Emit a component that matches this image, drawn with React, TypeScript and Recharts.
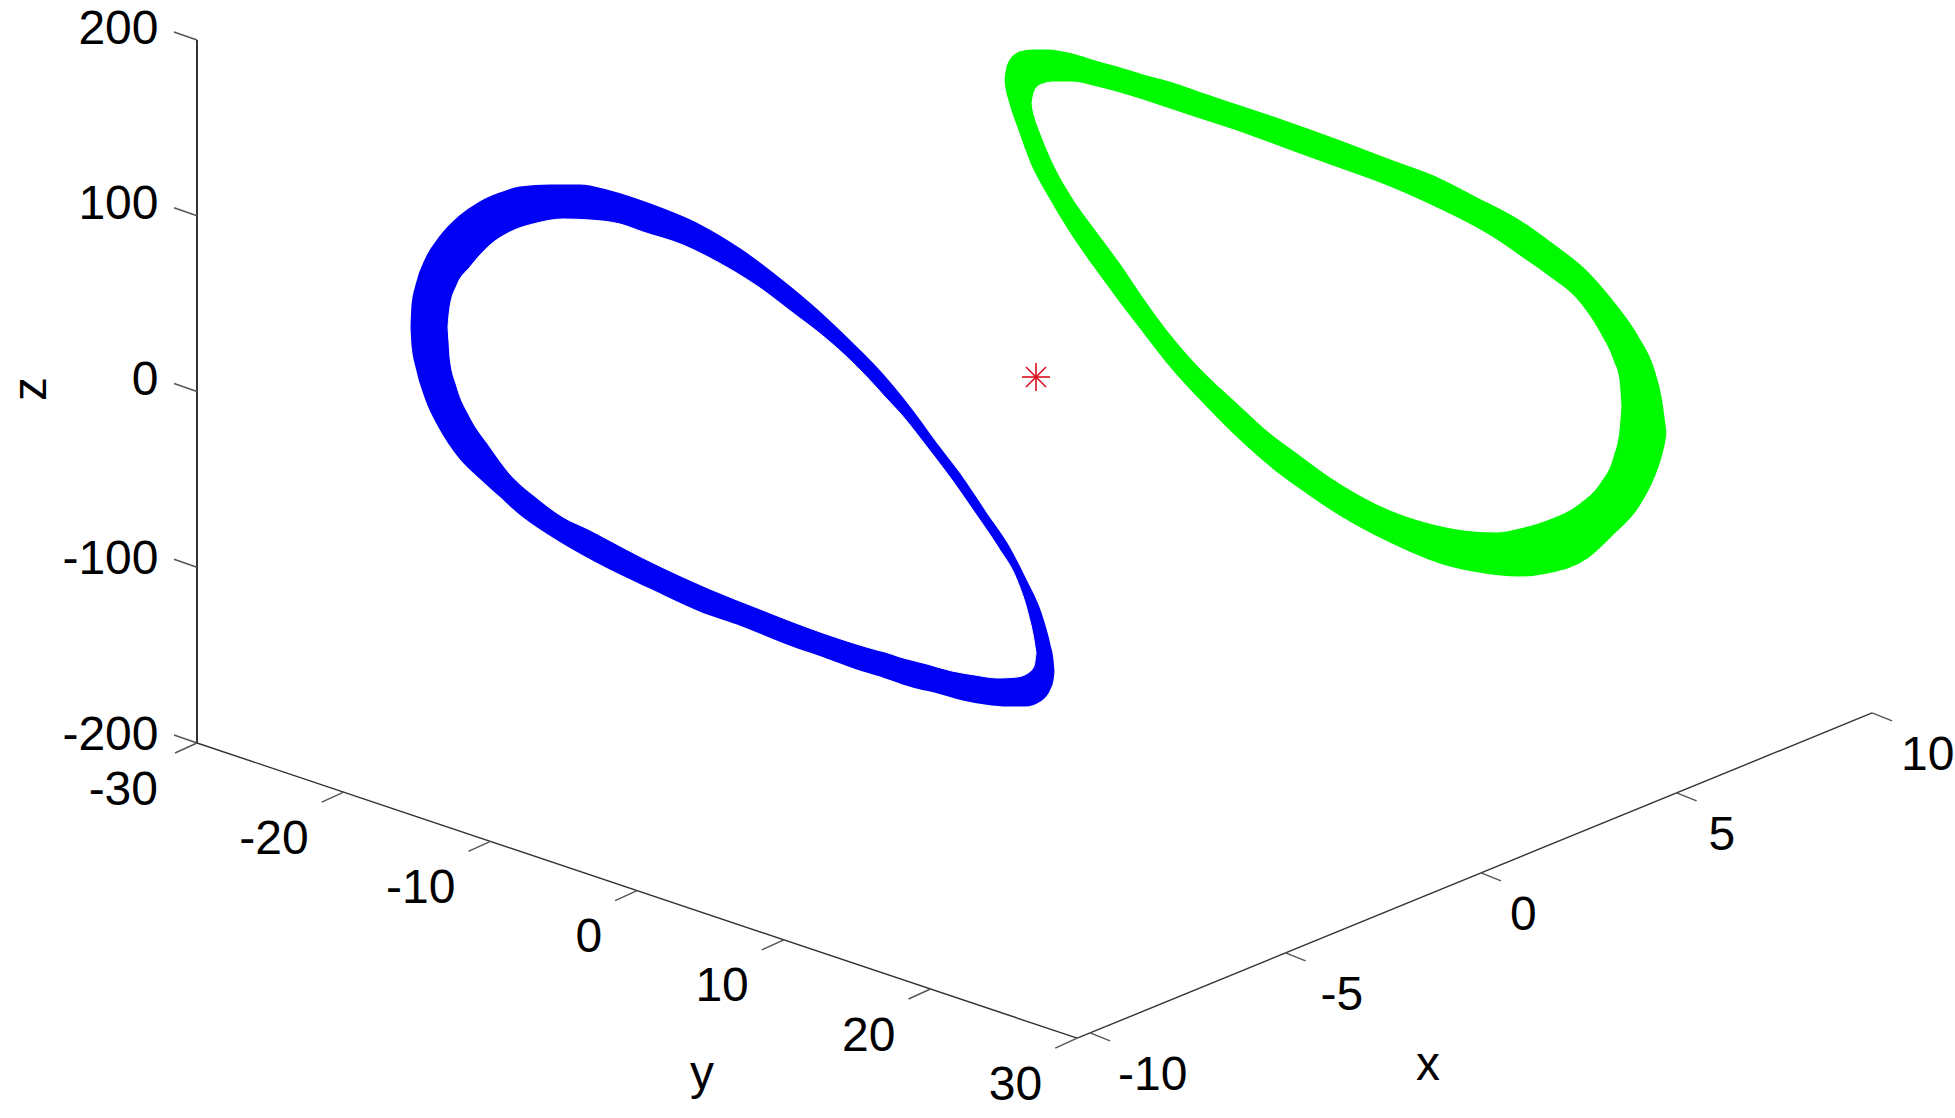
import React from 'react'
import { Area, ComposedChart, ReferenceLine, Scatter, XAxis, YAxis } from 'recharts'

const WIDTH = 1955
const HEIGHT = 1118

// axis tick values
const zTicks = [-200, -100, 0, 100, 200]
const yTicks = [-30, -20, -10, 0, 10, 20, 30]
const xTicks = [-10, -5, 0, 5, 10]

// box corner, the x axis starts a little before its first tick
const X_MIN = -10.33
const Y_MIN = -30
const Y_MAX = 30
const Z_MIN = -200
const Z_MAX = 200

// fixed 3-D view of the box onto the page
const project = (x: number, y: number, z: number) => ({
    x: 197 + (y - Y_MIN) * 14.67 + (x - X_MIN) * 39.1,
    y: 743 - (z - Z_MIN) * 1.7575 + (y - Y_MIN) * 4.92 - (x - X_MIN) * 16,
})

// loops: position, upper edge, lower edge
const blueOuterX = [412, 413, 417, 427, 440, 460, 480, 500, 520, 550, 580, 610, 650, 700, 740, 790, 827, 857, 883, 903, 913, 938, 963, 985, 1008, 1025, 1040, 1049, 1052, 1053]
const blueOuterTop = [327, 305, 285, 258, 238, 217, 203, 194, 188, 186, 186, 192, 205, 226, 250, 288, 320, 349, 376, 400, 413, 447, 480, 513, 547, 580, 613, 645, 660, 672]
const blueOuterBottom = [327, 345, 367, 400, 427, 457, 477, 495, 513, 534, 552, 568, 587, 610, 624, 644, 657, 668, 676, 683, 686, 692, 699, 703, 705, 705, 700, 689, 680, 672]
const blueInnerX = [448, 449, 450, 457, 470, 490, 510, 537, 563, 590, 620, 643, 683, 710, 760, 793, 823, 850, 877, 885, 900, 927, 952, 975, 998, 1017, 1028, 1034, 1036]
const blueInnerTop = [327, 315, 307, 285, 267, 245, 232, 223, 219, 220, 224, 232, 245, 258, 288, 313, 336, 360, 388, 397, 413, 447, 480, 513, 547, 580, 613, 640, 653]
const blueInnerBottom = [327, 342, 357, 387, 417, 447, 474, 498, 517, 530, 546, 558, 577, 589, 609, 622, 633, 642, 650, 652, 657, 664, 671, 675, 678, 677, 673, 666, 653]

const greenOuterX = [1006, 1007, 1010, 1020, 1033, 1048, 1072, 1095, 1120, 1143, 1172, 1207, 1240, 1273, 1307, 1340, 1390, 1440, 1473, 1520, 1547, 1587, 1613, 1637, 1653, 1660, 1664, 1665]
const greenOuterTop = [80, 72, 62, 53, 51, 51, 55, 62, 69, 76, 84, 96, 107, 118, 130, 142, 161, 180, 197, 222, 241, 273, 303, 337, 370, 397, 425, 433]
const greenOuterBottom = [80, 88, 100, 130, 165, 193, 233, 266, 300, 330, 367, 405, 438, 467, 492, 514, 541, 562, 570, 575, 572, 557, 533, 507, 477, 457, 440, 433]
const greenInnerX = [1032, 1033, 1035, 1040, 1053, 1072, 1097, 1120, 1143, 1167, 1197, 1237, 1270, 1297, 1330, 1390, 1437, 1473, 1497, 1520, 1547, 1580, 1600, 1613, 1619, 1621]
const greenInnerTop = [103, 97, 90, 85, 82, 82, 87, 93, 100, 108, 118, 131, 143, 153, 165, 187, 208, 226, 240, 256, 275, 303, 333, 360, 380, 407]
const greenInnerBottom = [103, 110, 118, 132, 163, 197, 232, 263, 297, 330, 365, 403, 433, 453, 477, 510, 525, 531, 532, 528, 520, 503, 483, 457, 430, 407]

const equilibrium = [{ x: 1036, y: 377 }]

// nudges for the x labels, same order as xTicks
const xLabelDx = [28, 35, 29, 32, 29]

const band = (xs: number[], top: number[], bottom: number[]) =>
    xs.map((x, i) => ({ x, range: [top[i], bottom[i]] }))

const zLabels = zTicks.map((z) => {
    const p = project(X_MIN, Y_MIN, z)
    return { x: 158.5, y: p.y - (z < 0 ? 10 : 13), label: String(z), anchor: 'end' }
})
const yLabels = yTicks.map((t) => {
    const p = project(X_MIN, t, Z_MIN)
    return { x: p.x - (t === Y_MIN ? 39 : 35), y: p.y + 45, label: String(t), anchor: 'end' }
})
const xLabels = xTicks.map((t, i) => {
    const p = project(t, Y_MAX, Z_MIN)
    return { x: p.x + xLabelDx[i], y: p.y + 41, label: String(t), anchor: 'start' }
})
const titles = [
    { x: 1428, y: 1063, label: 'x', anchor: 'middle' },
    { x: 702, y: 1072, label: 'y', anchor: 'middle' },
    { x: 29, y: 389, label: 'z', anchor: 'middle', angle: -90 },
]

const Label = (props: any) => {
    const { cx, cy, payload } = props
    return (
        <text
            x={cx}
            y={cy}
            textAnchor={payload.anchor}
            dominantBaseline="central"
            fontFamily="Liberation Sans"
            fontSize={48}
            fill="#000"
            transform={payload.angle ? `rotate(${payload.angle} ${cx} ${cy})` : undefined}
        >
            {payload.label}
        </text>
    )
}

const Star = (props: any) => {
    const { cx, cy } = props
    const r = 14
    const d = 10
    return (
        <g stroke="#d8101c" strokeWidth={1.6}>
            <line x1={cx - r} y1={cy} x2={cx + r} y2={cy} />
            <line x1={cx} y1={cy - r} x2={cx} y2={cy + r} />
            <line x1={cx - d} y1={cy - d} x2={cx + d} y2={cy + d} />
            <line x1={cx - d} y1={cy + d} x2={cx + d} y2={cy - d} />
        </g>
    )
}

const AXIS = '#333333'
const TICK = '#555555'
const BLUE = '#0000f5'
const GREEN = '#00fb00'

const segment = (a: { x: number; y: number }, b: { x: number; y: number }, key: string, color: string, w: number) => (
    <ReferenceLine key={key} segment={[a, b]} stroke={color} strokeWidth={w} ifOverflow="visible" />
)

const shift = (p: { x: number; y: number }, dx: number, dy: number) => ({ x: p.x + dx, y: p.y + dy })

const loop = (data: { x: number; range: number[] }[], fill: string, w: number) => (
    <Area data={data} dataKey="range" type="monotoneX" stroke={fill} strokeWidth={w} strokeLinejoin="round" fill={fill} fillOpacity={1} isAnimationActive={false} dot={false} activeDot={false} />
)

export default function App() {
    return (
        <div style={{ position: 'absolute', left: 0, top: 0, width: WIDTH, height: HEIGHT, background: '#fff' }}>
            <ComposedChart width={WIDTH} height={HEIGHT} margin={{ top: 0, right: 0, bottom: 0, left: 0 }}>
                <XAxis type="number" dataKey="x" domain={[0, WIDTH]} hide allowDataOverflow />
                <YAxis type="number" dataKey="y" domain={[0, HEIGHT]} reversed hide allowDataOverflow />

                {loop(band(blueOuterX, blueOuterTop, blueOuterBottom), BLUE, 3)}
                {loop(band(blueInnerX, blueInnerTop, blueInnerBottom), '#ffffff', 1)}
                {loop(band(greenOuterX, greenOuterTop, greenOuterBottom), GREEN, 3)}
                {loop(band(greenInnerX, greenInnerTop, greenInnerBottom), '#ffffff', 1)}

                {segment(project(X_MIN, Y_MIN, Z_MAX), project(X_MIN, Y_MIN, Z_MIN), 'z-axis', AXIS, 2)}
                {segment(project(X_MIN, Y_MIN, Z_MIN), project(X_MIN, Y_MAX, Z_MIN), 'y-axis', AXIS, 1.4)}
                {segment(project(X_MIN, Y_MAX, Z_MIN), project(10, Y_MAX, Z_MIN), 'x-axis', AXIS, 1.4)}
                {zTicks.map((z) => {
                    const p = project(X_MIN, Y_MIN, z)
                    return segment(p, shift(p, -23, -8), `zt${z}`, TICK, 1.4)
                })}
                {yTicks.map((t) => {
                    const p = project(X_MIN, t, Z_MIN)
                    return segment(p, shift(p, -22, 10), `yt${t}`, TICK, 1.4)
                })}
                {xTicks.map((t) => {
                    const p = project(t, Y_MAX, Z_MIN)
                    return segment(p, shift(p, 20, 8), `xt${t}`, TICK, 1.4)
                })}

                <Scatter data={equilibrium} shape={Star} isAnimationActive={false} />
                <Scatter data={zLabels} shape={Label} isAnimationActive={false} />
                <Scatter data={yLabels} shape={Label} isAnimationActive={false} />
                <Scatter data={xLabels} shape={Label} isAnimationActive={false} />
                <Scatter data={titles} shape={Label} isAnimationActive={false} />
            </ComposedChart>
        </div>
    )
}
